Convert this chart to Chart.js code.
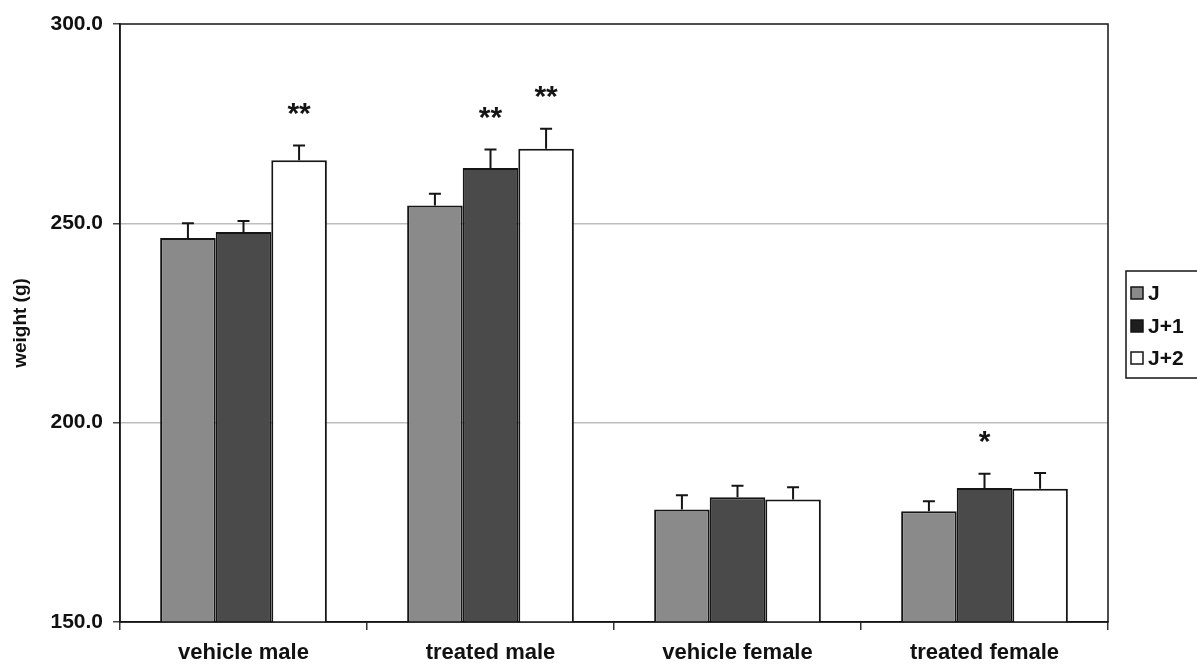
<!DOCTYPE html>
<html>
<head>
<meta charset="utf-8">
<script src="https://cdn.jsdelivr.net/npm/chart.js@4.4.1/dist/chart.umd.min.js"></script>
<style>
  html, body { margin: 0; padding: 0; background: #ffffff; }
  #wrap { width: 1197px; height: 668px; }
</style>
</head>
<body>
<div id="wrap"><canvas id="c" width="1197" height="668"></canvas></div>
<script>
// Groups and body weight means (g) for three consecutive days
const categories = ['vehicle male', 'treated male', 'vehicle female', 'treated female'];
const seriesNames = ['J', 'J+1', 'J+2'];
const weightJ  = [246.3, 254.5, 178.2, 177.8];
const weightJ1 = [247.8, 263.9, 181.3, 183.6];
const weightJ2 = [265.8, 268.7, 180.7, 183.4];
// Standard errors (upper whisker only)
const errJ  = [3.7, 2.9, 3.6, 2.5];
const errJ1 = [2.8, 4.6, 2.9, 3.6];
const errJ2 = [3.7, 5.0, 3.1, 4.0];
// Significance marks
const sigJ  = ['', '', '', ''];
const sigJ1 = ['', '**', '', '*'];
const sigJ2 = ['**', '**', '', ''];
// Y axis ticks
const yTicks = [150, 200, 250, 300];

const FONT = '"Liberation Sans", Arial, sans-serif';
const fills = ['#8a8a8a', '#4a4a4a', '#ffffff'];
const legendFills = ['#8a8a8a', '#1e1e1e', '#ffffff'];

const seriesValues = [weightJ, weightJ1, weightJ2];
const seriesErrors = [errJ, errJ1, errJ2];
const seriesSig = [sigJ, sigJ1, sigJ2];

const datasets = seriesNames.map((name, i) => ({
  label: name,
  data: seriesValues[i],
  errors: seriesErrors[i],
  marks: seriesSig[i],
  backgroundColor: fills[i],
  borderColor: '#151515',
  borderWidth: 2,
  borderSkipped: false,
  categoryPercentage: 0.675,
  barPercentage: 1.0
}));

// Upper error whiskers and significance stars
const whiskers = {
  id: 'whiskers',
  afterDatasetsDraw(chart) {
    const ctx = chart.ctx;
    const y = chart.scales.y;
    chart.data.datasets.forEach((ds, di) => {
      const meta = chart.getDatasetMeta(di);
      meta.data.forEach((bar, i) => {
        const v = ds.data[i];
        const top = y.getPixelForValue(v + ds.errors[i]);
        const base = y.getPixelForValue(v);
        ctx.save();
        ctx.strokeStyle = '#151515';
        ctx.lineWidth = 2;
        ctx.beginPath();
        ctx.moveTo(bar.x, base);
        ctx.lineTo(bar.x, top);
        ctx.moveTo(bar.x - 6, top);
        ctx.lineTo(bar.x + 6, top);
        ctx.stroke();
        const mark = ds.marks[i];
        if (mark) {
          ctx.fillStyle = '#151515';
          ctx.font = 'bold 30px ' + FONT;
          ctx.textAlign = 'center';
          ctx.textBaseline = 'alphabetic';
          ctx.fillText(mark, bar.x, top - 23);
        }
        ctx.restore();
      });
    });
  }
};

// Plot frame and boxed legend on the right
const frameAndLegend = {
  id: 'frameAndLegend',
  afterDraw(chart) {
    const ctx = chart.ctx;
    const a = chart.chartArea;
    ctx.save();
    ctx.strokeStyle = '#151515';
    ctx.lineWidth = 1.5;
    ctx.strokeRect(a.left, a.top, a.right - a.left, a.bottom - a.top);

    const boxL = 1126, boxT = 271, boxB = 378;
    ctx.lineWidth = 1.5;
    ctx.strokeRect(boxL, boxT, 1197 - boxL + 5, boxB - boxT);
    const rows = [293, 326, 358];
    chart.data.datasets.forEach((ds, i) => {
      const cy = rows[i];
      ctx.fillStyle = legendFills[i];
      ctx.fillRect(1131, cy - 6, 12, 12);
      ctx.strokeStyle = '#151515';
      ctx.lineWidth = 1.5;
      ctx.strokeRect(1131, cy - 6, 12, 12);
      ctx.fillStyle = '#111111';
      ctx.font = 'bold 21px ' + FONT;
      ctx.textAlign = 'left';
      ctx.textBaseline = 'middle';
      ctx.fillText(ds.label, 1148, cy + 1);
    });
    ctx.restore();
  }
};

new Chart(document.getElementById('c'), {
  type: 'bar',
  data: { labels: categories, datasets },
  options: {
    responsive: false,
    animation: false,
    layout: { padding: { left: 0, top: 24, right: 89, bottom: 0 } },
    plugins: { legend: { display: false }, tooltip: { enabled: false } },
    scales: {
      x: {
        offset: true,
        grid: { offset: true, drawOnChartArea: false, tickLength: 8, tickColor: '#333333', lineWidth: 1.5 },
        border: { color: '#151515', width: 1.5 },
        ticks: { color: '#111111', font: { family: FONT, size: 22, weight: 'bold' }, padding: 10 },
        afterFit(s) { s.height = 46; }
      },
      y: {
        min: 150,
        max: 300,
        afterBuildTicks(s) { s.ticks = yTicks.map(v => ({ value: v })); },
        grid: {
          color: c => (c.tick && (c.tick.value === 150 || c.tick.value === 300)) ? 'rgba(0,0,0,0)' : '#bdbdbd',
          lineWidth: 1.5,
          tickLength: 7,
          tickColor: '#444444'
        },
        border: { color: '#151515', width: 1.5 },
        ticks: {
          color: '#111111',
          font: { family: FONT, size: 21, weight: 'bold' },
          padding: 10,
          callback: v => Number(v).toFixed(1)
        },
        title: {
          display: true,
          text: 'weight (g)',
          color: '#111111',
          font: { family: FONT, size: 19, weight: 'bold' },
          padding: { top: 9, bottom: 0 }
        },
        afterFit(s) { s.width = 120; }
      }
    }
  },
  plugins: [whiskers, frameAndLegend]
});
</script>
</body>
</html>
